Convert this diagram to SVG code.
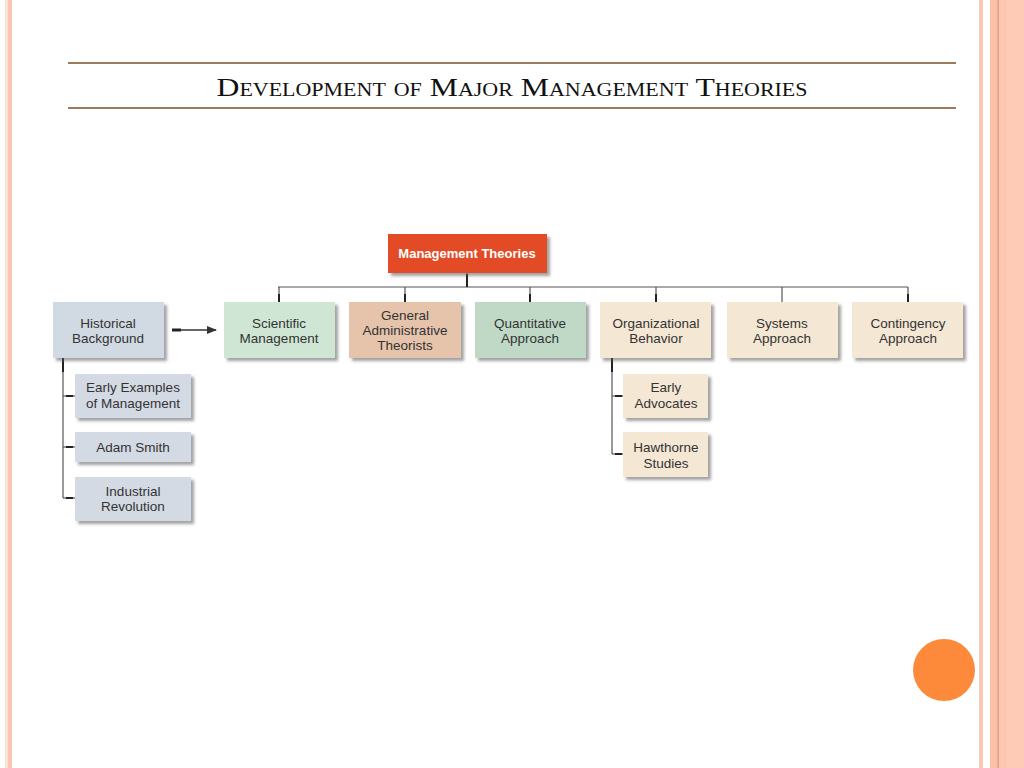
<svg xmlns="http://www.w3.org/2000/svg" width="1024" height="768" viewBox="0 0 1024 768">
<defs>
<filter id="sh" x="-10%" y="-10%" width="130%" height="140%">
<feDropShadow dx="3" dy="3" stdDeviation="1.8" flood-color="#555" flood-opacity="0.55"/>
</filter>
<marker id="ah" markerWidth="10" markerHeight="8" refX="9" refY="4" orient="auto" markerUnits="userSpaceOnUse">
<path d="M0,0 L10,4 L0,8 Z" fill="#333"/>
</marker>
<style>
.t{font-family:"Liberation Sans",Arial,sans-serif;font-size:13.5px;fill:#333;text-anchor:middle}
.b{filter:url(#sh)}
.c{stroke:#555;stroke-width:1.2;fill:none}
.d{stroke:#222;stroke-width:2;fill:none}
</style>
</defs>
<rect width="1024" height="768" fill="#fff"/>
<!-- side stripes -->
<rect x="5" y="0" width="3" height="768" fill="#f8e2d2"/>
<rect x="8" y="0" width="4" height="768" fill="#fbc4b5"/>
<rect x="979" y="0" width="4" height="768" fill="#f9c9b8"/>
<rect x="990" y="0" width="34" height="768" fill="#fcc7b1"/>
<rect x="990" y="0" width="7" height="768" fill="#fbc0a8"/>
<rect x="997.5" y="0" width="1.2" height="768" fill="#e09570"/>
<rect x="1007" y="0" width="17" height="768" fill="#fdcbb6"/>
<!-- title -->
<g id="title">
<line x1="68" y1="63" x2="956" y2="63" stroke="#9b7b5a" stroke-width="2"/>
<line x1="68" y1="108" x2="956" y2="108" stroke="#9b7b5a" stroke-width="2"/>
<text x="512" y="96" font-family="'Liberation Serif','Times New Roman',serif" font-size="26" font-variant="small-caps" text-anchor="middle" fill="#111" textLength="591" lengthAdjust="spacingAndGlyphs">Development of Major Management Theories</text>
</g>
<!-- connectors -->
<g id="connectors">
<line class="c" x1="467" y1="273" x2="467" y2="287"/>
<line class="c" x1="278" y1="287" x2="908" y2="287"/>
<line class="d" x1="467" y1="274" x2="467" y2="287"/>
<line class="c" x1="279" y1="287" x2="279" y2="302"/>
<line class="c" x1="405" y1="287" x2="405" y2="302"/>
<line class="c" x1="530" y1="287" x2="530" y2="302"/>
<line class="c" x1="656" y1="287" x2="656" y2="302"/>
<line class="c" x1="782" y1="287" x2="782" y2="302"/>
<line class="c" x1="908" y1="287" x2="908" y2="302"/>
<line class="d" x1="279" y1="294" x2="279" y2="302"/>
<line class="d" x1="405" y1="294" x2="405" y2="302"/>
<line class="d" x1="530" y1="294" x2="530" y2="302"/>
<line class="d" x1="656" y1="294" x2="656" y2="302"/>
<line class="d" x1="908" y1="294" x2="908" y2="302"/>
<line x1="172" y1="330" x2="181" y2="330" stroke="#222" stroke-width="3"/>
<line x1="180" y1="330" x2="216" y2="330" stroke="#333" stroke-width="1.5" marker-end="url(#ah)"/>
<line class="c" x1="63" y1="358" x2="63" y2="498"/>
<line class="d" x1="63" y1="358" x2="63" y2="372"/>
<line class="c" x1="63" y1="396" x2="75" y2="396"/>
<line class="c" x1="63" y1="447" x2="75" y2="447"/>
<line class="c" x1="63" y1="498" x2="75" y2="498"/>
<line class="d" x1="66" y1="396" x2="73" y2="396"/>
<line class="d" x1="66" y1="447" x2="73" y2="447"/>
<line class="d" x1="66" y1="498" x2="73" y2="498"/>
<line class="c" x1="612" y1="358" x2="612" y2="454"/>
<line class="d" x1="612" y1="358" x2="612" y2="372"/>
<line class="c" x1="612" y1="396" x2="623" y2="396"/>
<line class="c" x1="612" y1="454" x2="623" y2="454"/>
<line class="d" x1="615" y1="396" x2="622" y2="396"/>
<line class="d" x1="615" y1="454" x2="622" y2="454"/>
</g>
<!-- nodes -->
<g id="n-root"><rect class="b" x="388" y="234" width="159" height="39" fill="#e24b26"/><text x="467" y="258" font-family="'Liberation Sans',Arial,sans-serif" font-size="13" font-weight="bold" fill="#fff" text-anchor="middle">Management Theories</text></g>
<g id="n-hist"><rect class="b" x="53" y="302" width="111" height="56" fill="#d1d9e2"/><text class="t" x="108" y="328">Historical</text><text class="t" x="108" y="343">Background</text></g>
<g id="n-sci"><rect class="b" x="224" y="302" width="111" height="56" fill="#cfe6d4"/><text class="t" x="279" y="328">Scientific</text><text class="t" x="279" y="343">Management</text></g>
<g id="n-gen"><rect class="b" x="349" y="302" width="112" height="56" fill="#e6c4ac"/><text class="t" x="405" y="320">General</text><text class="t" x="405" y="335">Administrative</text><text class="t" x="405" y="350">Theorists</text></g>
<g id="n-quant"><rect class="b" x="475" y="302" width="111" height="56" fill="#c0d9c7"/><text class="t" x="530" y="328">Quantitative</text><text class="t" x="530" y="343">Approach</text></g>
<g id="n-org"><rect class="b" x="600" y="302" width="111" height="56" fill="#f4e7d4"/><text class="t" x="656" y="328">Organizational</text><text class="t" x="656" y="343">Behavior</text></g>
<g id="n-sys"><rect class="b" x="727" y="302" width="111" height="56" fill="#f4e7d4"/><text class="t" x="782" y="328">Systems</text><text class="t" x="782" y="343">Approach</text></g>
<g id="n-cont"><rect class="b" x="852" y="302" width="111" height="56" fill="#f4e7d4"/><text class="t" x="908" y="328">Contingency</text><text class="t" x="908" y="343">Approach</text></g>
<g id="n-early"><rect class="b" x="75" y="374" width="116" height="44" fill="#d3dae3"/><text class="t" x="133" y="392">Early Examples</text><text class="t" x="133" y="408">of Management</text></g>
<g id="n-smith"><rect class="b" x="75" y="432" width="116" height="30" fill="#d3dae3"/><text class="t" x="133" y="452">Adam Smith</text></g>
<g id="n-ind"><rect class="b" x="75" y="477" width="116" height="44" fill="#d3dae3"/><text class="t" x="133" y="496">Industrial</text><text class="t" x="133" y="511">Revolution</text></g>
<g id="n-adv"><rect class="b" x="623" y="374" width="85" height="44" fill="#f4e7d4"/><text class="t" x="666" y="392">Early</text><text class="t" x="666" y="408">Advocates</text></g>
<g id="n-haw"><rect class="b" x="623" y="432" width="85" height="45" fill="#f4e7d4"/><text class="t" x="666" y="452">Hawthorne</text><text class="t" x="666" y="468">Studies</text></g>
<circle cx="944" cy="670" r="31" fill="#fc8a3a"/>
</svg>
